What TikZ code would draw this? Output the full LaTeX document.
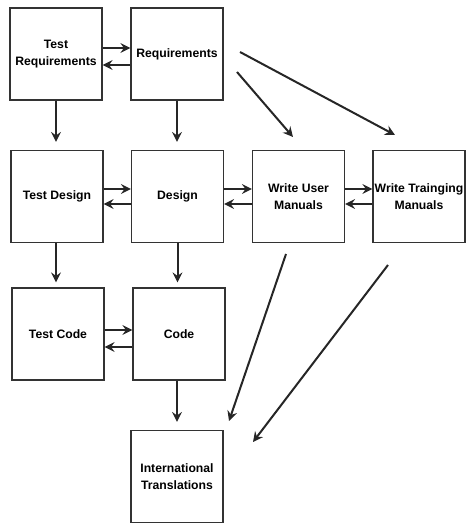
\documentclass[tikz,border=0pt]{standalone}
\usepackage{fontspec}
\setmainfont{Liberation Sans}
\usetikzlibrary{arrows.meta}
\def\boxsize{92pt}
\begin{document}
\begin{tikzpicture}[x=1pt, y=1pt,
    every node/.style={font=\bfseries\fontsize{12.2}{16.5}\selectfont},
    task/.style={draw=black!80, line width=1.2pt, minimum width=\boxsize, minimum height=\boxsize, inner sep=0pt, align=center},
    flow/.style={draw=black!85, line width=2pt, -{Stealth[length=10pt, width=10pt, inset=3.5pt]}}]
      \useasboundingbox (0,0) rectangle (474,531);
      \node[task] (testreq) at (56, 477) {Test\\Requirements};
      \node[task] (req) at (177, 477) {Requirements};
      \node[task] (testdesign) at (57, 334.5) {Test Design};
      \node[task] (design) at (177.5, 334.5) {Design};
      \node[task] (usermanuals) at (298.5, 334.5) {Write User\\Manuals};
      \node[task] (trainmanuals) at (419, 334.5) {Write Trainging\\Manuals};
      \node[task] (testcode) at (58, 197) {Test Code};
      \node[task] (code) at (179, 197) {Code};
      \node[task] (intl) at (177, 54.5) {International\\Translations};
      \coordinate (r1) at (240, 479);
      \coordinate (t1) at (395, 396);
      \coordinate (r2) at (237, 459);
      \coordinate (u1) at (293, 394);
      \coordinate (u2) at (286, 277);
      \coordinate (i1) at (229, 110);
      \coordinate (t2) at (388, 266);
      \coordinate (i2) at (253, 89);
      \draw[flow] ([yshift=6pt]testreq.east) -- ([yshift=6pt]testreq.east -| req.west);
      \draw[flow] ([yshift=-11pt]req.west) -- ([yshift=-11pt]req.west -| testreq.east);
      \draw[flow] ([yshift=7.5pt]testdesign.east) -- ([yshift=7.5pt]testdesign.east -| design.west);
      \draw[flow] ([yshift=-7.5pt]design.west) -- ([yshift=-7.5pt]design.west -| testdesign.east);
      \draw[flow] ([yshift=7.5pt]design.east) -- ([yshift=7.5pt]design.east -| usermanuals.west);
      \draw[flow] ([yshift=-7.5pt]usermanuals.west) -- ([yshift=-7.5pt]usermanuals.west -| design.east);
      \draw[flow] ([yshift=7.5pt]usermanuals.east) -- ([yshift=7.5pt]usermanuals.east -| trainmanuals.west);
      \draw[flow] ([yshift=-7.5pt]trainmanuals.west) -- ([yshift=-7.5pt]trainmanuals.west -| usermanuals.east);
      \draw[flow] ([yshift=4pt]testcode.east) -- ([yshift=4pt]testcode.east -| code.west);
      \draw[flow] ([yshift=-13pt]code.west) -- ([yshift=-13pt]code.west -| testcode.east);
      \draw[flow, shorten >=8pt] (testreq.south) -- (testreq.south |- testdesign.north);
      \draw[flow, shorten >=8pt] (req.south) -- (req.south |- design.north);
      \draw[flow, shorten >=5pt] ([xshift=-1pt]testdesign.south) -- ([xshift=-1pt]testdesign.south |- testcode.north);
      \draw[flow, shorten >=5pt] (design.south) -- (design.south |- code.north);
      \draw[flow, shorten >=8pt] ([xshift=-2pt]code.south) -- ([xshift=-2pt]code.south |- intl.north);
      \draw[flow] (r1) -- (t1);
      \draw[flow] (r2) -- (u1);
      \draw[flow] (u2) -- (i1);
      \draw[flow] (t2) -- (i2);
\end{tikzpicture}
\end{document}
